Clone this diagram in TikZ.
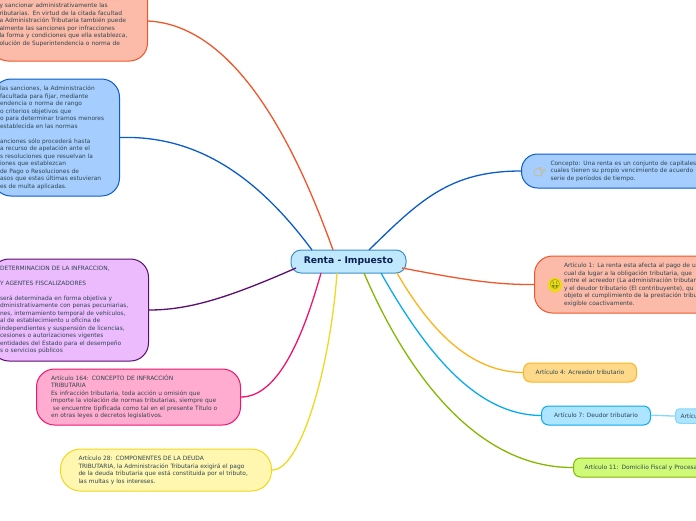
\documentclass[tikz,border=0pt]{standalone}
\usepackage{fontspec}
\setmainfont{DejaVu Sans}
\newfontfamily\emojifont{Noto Emoji}
\definecolor{salmonfill}{HTML}{FBBBA8}
\definecolor{salmonline}{HTML}{F0562A}
\definecolor{bluefill}{HTML}{A5CDFD}
\definecolor{blueline}{HTML}{0B5CCB}
\definecolor{purplefill}{HTML}{EBBBFD}
\definecolor{purpleline}{HTML}{5A0E6E}
\definecolor{pinkfill}{HTML}{FFACD0}
\definecolor{pinkline}{HTML}{F0146E}
\definecolor{yellowfill}{HTML}{FFF7B0}
\definecolor{yellowline}{HTML}{F0D820}
\definecolor{rootfill}{HTML}{BFE8FD}
\definecolor{rootline}{HTML}{3D8FC8}
\definecolor{orangefill}{HTML}{FFD98A}
\definecolor{orangeline}{HTML}{FFB31A}
\definecolor{cyanfill}{HTML}{ADE4FF}
\definecolor{cyanline}{HTML}{0AAAEE}
\definecolor{greenfill}{HTML}{CFFA78}
\definecolor{greenline}{HTML}{84B800}
\definecolor{palefill}{HTML}{ADE4FF}
\definecolor{paleline}{HTML}{87D7F7}
\definecolor{inktext}{HTML}{2F4650}
\definecolor{roottext}{HTML}{0A2050}
\definecolor{handcolor}{HTML}{F2A81E}
\tikzset{
 box/.style={draw,line width=1pt,align=left,text=inktext,rounded corners=18pt,
  font=\fontsize{5.9}{7.5}\selectfont},
 small/.style={box,rounded corners=7pt,minimum height=19pt,inner ysep=0pt},
 link/.style={line width=1.3pt},
 icon/.style={font=\emojifont\fontsize{10}{10}\selectfont,inner sep=0pt}
}
\begin{document}
\begin{tikzpicture}[x=1pt,y=-1pt]
 \useasboundingbox (0,0) rectangle (696,520);
 \node[box,fill=rootfill,draw=rootline,rounded corners=10pt,minimum width=115pt,minimum height=23pt,text=roottext,
  font=\fontsize{9.2}{11}\selectfont\bfseries,align=center] (root) at (348.5,261.5) {Renta - Impuesto};
 \node[box,fill=salmonfill,draw=salmonline,anchor=east,inner xsep=9pt,text width=139pt,minimum height=80pt] (sancion) at (148,21) {%
ación Tributaria tiene la facultad discrecional\\
y sancionar administrativamente las\\
ributarias. En virtud de la citada facultad\\
a Administración Tributaria también puede\\
almente las sanciones por infracciones\\
la forma y condiciones que ella establezca,\\
olución de Superintendencia o norma de};
 \node[box,fill=bluefill,draw=blueline,anchor=east,inner xsep=7pt,text width=112.5pt,minimum height=117pt] (gradual) at (120,137.5) {%
las sanciones, la Administración\\
facultada para fijar, mediante\\
endencia o norma de rango\\
o criterios objetivos que\\
o para determinar tramos menores\\
establecida en las normas\\[7.5pt]
anciones sólo procederá hasta\\
a recurso de apelación ante el\\
s resoluciones que resuelvan la\\
iones que establezcan\\
de Pago o Resoluciones de\\
asos que estas últimas estuvieran\\
es de multa aplicadas.};
 \node[box,fill=purplefill,draw=purpleline,anchor=east,inner xsep=9pt,text width=139.5pt,minimum height=102pt] (determina) at (149,310) {%
DETERMINACION DE LA INFRACCION,\\[7.5pt]
Y AGENTES FISCALIZADORES\\[7.5pt]
será determinada en forma objetiva y\\
dministrativamente con penas pecuniarias,\\
nes, internamiento temporal de vehículos,\\
al de establecimiento u oficina de\\
independientes y suspensión de licencias,\\
cesiones o autorizaciones vigentes\\
entidades del Estado para el desempeño\\
s o servicios públicos};
 \node[box,fill=pinkfill,draw=pinkline,anchor=west,inner xsep=14.5pt,text width=175pt,minimum height=56pt] (infraccion) at (36,397) {%
Artículo 164: CONCEPTO DE INFRACCIÓN\\
TRIBUTARIA\\
Es infracción tributaria, toda acción u omisión que\\
importe la violación de normas tributarias, siempre que\\
\ se encuentre tipificada como tal en el presente Título o\\
en otras leyes o decretos legislativos.};
 \node[box,fill=yellowfill,draw=yellowline,anchor=west,inner xsep=18pt,text width=175pt,minimum height=42pt,rounded corners=20pt] (deuda) at (60,470) {%
Artículo 28: COMPONENTES DE LA DEUDA\\
TRIBUTARIA, la Administración Tributaria exigirá el pago\\
de la deuda tributaria que está constituida por el tributo,\\
las multas y los intereses.};
 \node[box,fill=bluefill,draw=blueline,anchor=west,inner xsep=29pt,text width=200pt,minimum height=34pt,rounded corners=16pt] (concepto) at (521,171) {%
Concepto: Una renta es un conjunto de capitales\\
cuales tienen su propio vencimiento de acuerdo\\
serie de períodos de tiempo.};
 \node[box,fill=salmonfill,draw=salmonline,anchor=west,inner xsep=29.5pt,text width=200pt,minimum height=57pt] (afecta) at (534,284.5) {%
Artículo 1: La renta esta afecta al pago de u\\
cual da lugar a la obligación tributaria, que\\
entre el acreedor (La administración tributaria\\
y el deudor tributario  (El contribuyente), qu\\
objeto el cumplimiento de la prestación tribu\\
exigible coactivamente.};
 \node[small,fill=orangefill,draw=orangeline,anchor=west,minimum width=113pt,align=center] (acreedor) at (523,372.5) {Artículo 4: Acreedor tributario};
 \node[small,fill=cyanfill,draw=cyanline,anchor=west,minimum width=109pt,align=center] (deudor) at (541,415.5) {Artículo 7: Deudor tributario};
 \node[small,fill=palefill,draw=paleline,anchor=west,minimum width=60pt,minimum height=14.5pt,rounded corners=4pt,inner xsep=4.5pt,text width=50pt] (deudorsub) at (675,416) {Artículo};
 \node[small,fill=greenfill,draw=greenline,anchor=west,inner xsep=11pt,text width=160pt] (domicilio) at (573,467.5) {Artículo 11: Domicilio Fiscal y Procesal};
 \node[icon,text=handcolor] (mano) at (540,172) {👉};
 \node[icon,circle,fill=yellowline,text=greenline!70!black,font=\emojifont\fontsize{9}{9}\selectfont] (cara) at (555,285) {🤑};
 \coordinate (rootred) at (333,250);
 \coordinate (rootblue) at (312,250);
 \coordinate (rootpurple) at (296,268);
 \coordinate (rootpink) at (321,273);
 \coordinate (rootyellow) at (337,273);
 \coordinate (rootconcepto) at (369,250);
 \coordinate (rootafecta) at (402,268);
 \coordinate (rootorange) at (397,273);
 \coordinate (rootcyan) at (381,273);
 \coordinate (rootgreen) at (364,273);
 \draw[link,salmonline](rootred) .. controls (290,130) and (230,25) .. (sancion.east);
 \draw[link,blueline](rootblue) .. controls (260,180) and (200,135) .. (gradual.east);
 \draw[link,purpleline](rootpurple) .. controls (230,297) and (190,310) .. (determina.east);
 \draw[link,pinkline](rootpink) .. controls (305,330) and (280,397) .. (infraccion.east);
 \draw[link,yellowline](rootyellow) .. controls (330,370) and (300,471) .. (deuda.east);
 \draw[link,blueline](rootconcepto) .. controls (420,200) and (450,171) .. (concepto.west);
 \draw[link,salmonline](rootafecta) .. controls (450,277) and (490,285) .. (afecta.west);
 \draw[link,orangeline](rootorange) .. controls (430,330) and (470,372) .. (acreedor.west);
 \draw[link,cyanline](rootcyan) .. controls (430,360) and (480,415) .. (deudor.west);
 \draw[link,greenline](rootgreen) .. controls (410,380) and (480,468) .. (domicilio.west);
 \draw[link,paleline](deudor.east) .. controls (660,415) and (665,416) .. (deudorsub.west);
\end{tikzpicture}
\end{document}
